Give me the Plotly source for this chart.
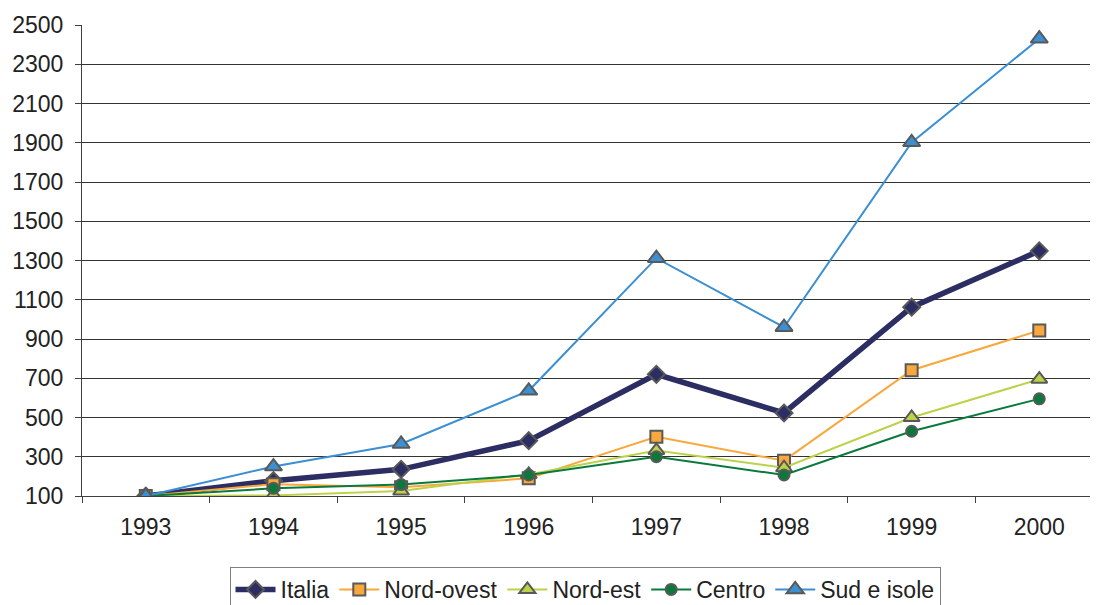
import plotly.graph_objects as go

years = [1993, 1994, 1995, 1996, 1997, 1998, 1999, 2000]
italia = [100, 178, 236, 382, 720, 523, 1062, 1349]
nord_ovest = [100, 160, 145, 190, 402, 280, 741, 943]
nord_est = [100, 103, 125, 210, 332, 244, 500, 695]
centro = [100, 139, 158, 207, 300, 207, 430, 595]
sud_isole = [100, 250, 365, 636, 1312, 960, 1902, 2430]

y_ticks = list(range(100, 2501, 200))

outline = "#595959"
series = [
    ("Italia", italia, "#2b2d63", 5.5, "diamond", 13),
    ("Nord-ovest", nord_ovest, "#f8a83c", 2, "square", 12),
    ("Nord-est", nord_est, "#bcd24a", 2, "triangle-up", 14),
    ("Centro", centro, "#0a7a3c", 2, "circle", 11),
    ("Sud e isole", sud_isole, "#3b8fd2", 2, "triangle-up", 15),
]

fig = go.Figure()
for name, vals, color, lw, sym, ms in series:
    fig.add_trace(go.Scatter(
        x=years, y=vals, name=name, mode="lines+markers",
        line=dict(color=color, width=lw),
        marker=dict(symbol=sym, size=ms, color=color,
                    line=dict(color=outline, width=2)),
    ))

W, H = 1090, 597
fig.update_layout(
    width=W, height=H,
    margin=dict(l=74, r=0, t=17, b=109),
    paper_bgcolor="white", plot_bgcolor="white",
    font=dict(family="Liberation Sans, Arial, sans-serif", size=23, color="#222222"),
    showlegend=True,
    legend=dict(
        orientation="h", xref="container", yref="container",
        x=577 / W, xanchor="center", y=1 - 559 / H, yanchor="top",
        bordercolor="#808080", borderwidth=1, bgcolor="white",
        font=dict(size=23), itemwidth=40, traceorder="normal",
    ),
)

fig.update_xaxes(
    range=[1992.5, 2000.46],
    tickvals=years, ticktext=[str(y) for y in years],
    ticks="", ticklabelstandoff=10,
    showgrid=False, zeroline=False,
    showline=True, linecolor="#404040", linewidth=1,
    minor=dict(tickvals=[y + 0.5 for y in [1992] + years], ticks="outside",
               ticklen=6, tickcolor="#404040", tickwidth=1, showgrid=False),
)

fig.update_yaxes(
    range=[100, 2500],
    tickvals=y_ticks, ticks="outside", ticklen=6, tickcolor="#404040",
    ticklabelstandoff=7,
    showgrid=True, gridcolor="#333333", gridwidth=1, zeroline=False,
    showline=True, linecolor="#404040", linewidth=1,
)

fig.write_html("out.html")
